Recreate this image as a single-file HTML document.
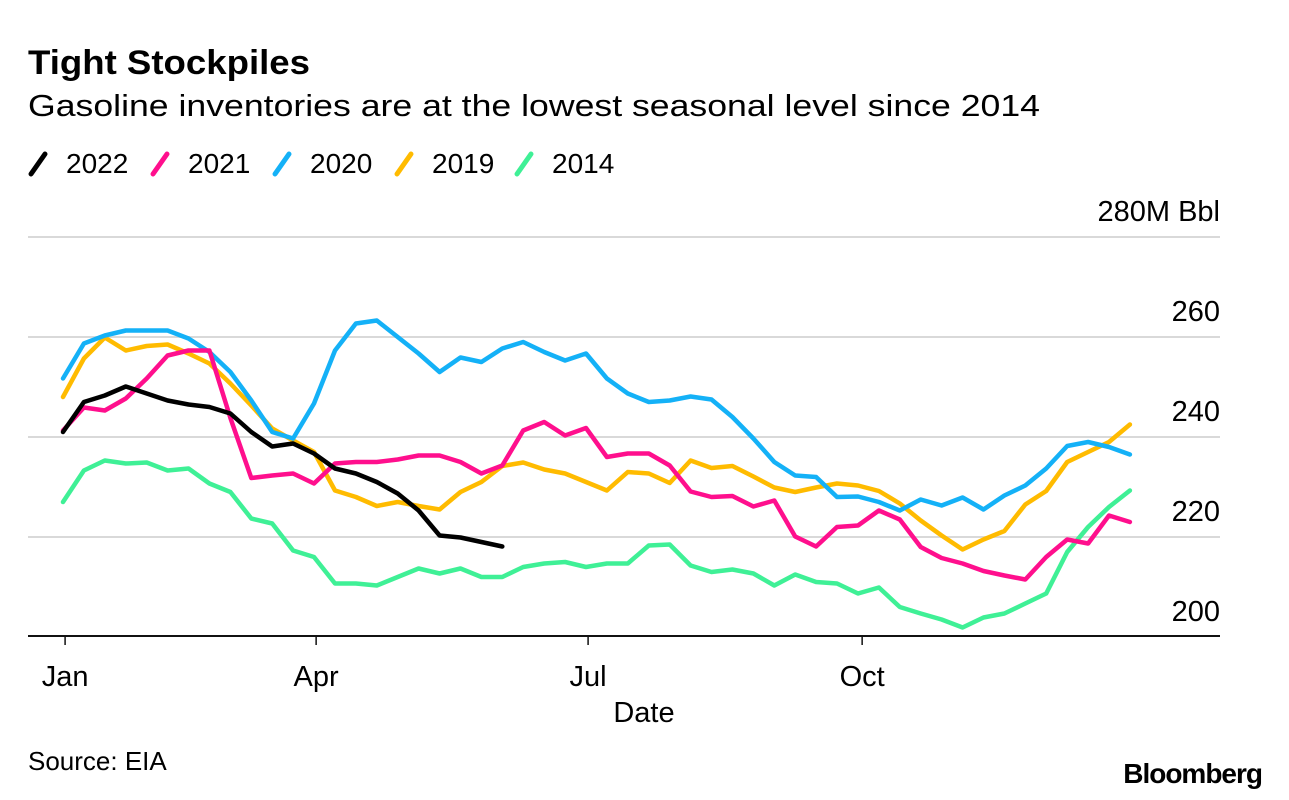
<!DOCTYPE html>
<html><head><meta charset="utf-8"><style>
html,body{margin:0;padding:0;background:#fff;}
svg{display:block;font-family:"Liberation Sans",Arial,sans-serif;}
</style></head><body>
<svg id="chart" width="1289" height="800" viewBox="0 0 1289 800">
<text x="28" y="74" font-size="34" font-weight="bold" fill="#000" textLength="282" lengthAdjust="spacingAndGlyphs">Tight Stockpiles</text>
<text x="28" y="116" font-size="31" fill="#000" textLength="1012" lengthAdjust="spacingAndGlyphs">Gasoline inventories are at the lowest seasonal level since 2014</text>
<g id="legend"></g>
<g id="grid"></g>
<g id="yaxis"></g>
<g id="xaxis"></g>
<g id="series"></g>
<text x="644" y="722" font-size="29" text-anchor="middle" fill="#000">Date</text>
<text x="28" y="770" font-size="26" fill="#000">Source: EIA</text>
<text x="1262" y="783" font-size="28" font-weight="bold" text-anchor="end" fill="#000" letter-spacing="-1">Bloomberg</text>
</svg>
<script>
const yTicks = [200, 220, 240, 260, 280];
const yTickLabels = ["200", "220", "240", "260", "280M Bbl"];
const xTickWeeks = [0.1, 12.1, 25.1, 38.2];
const xTickLabels = ["Jan", "Apr", "Jul", "Oct"];
const seriesNames = ["2014", "2019", "2020", "2021", "2022"];
const s2022 = [241,247,248.3,250.1,248.7,247.3,246.5,246,244.7,241,238.1,238.7,236.7,233.7,232.7,231,228.7,225.3,220.3,219.9,219,218.1];
const s2021 = [241.3,245.9,245.3,247.7,251.7,256.3,257.3,257.3,243.8,231.8,232.3,232.7,230.7,234.7,235,235,235.5,236.3,236.3,235,232.7,234.3,241.3,243,240.3,241.8,236,236.7,236.7,234.3,229.1,228,228.2,226.1,227.3,220.1,218.1,222,222.3,225.3,223.5,218,215.8,214.7,213.2,212.3,211.5,216,219.5,218.7,224.3,223];
const s2020 = [251.7,258.7,260.3,261.3,261.3,261.3,259.7,257,253,247.3,241,239.7,246.7,257.3,262.7,263.3,260,256.7,253,255.9,255,257.7,259,257,255.3,256.7,251.7,248.7,247,247.3,248.1,247.5,244,239.7,235,232.3,232,228,228.1,227,225.3,227.5,226.3,227.9,225.5,228.3,230.3,233.7,238.2,239,238,236.5];
const s2019 = [248,255.7,259.9,257.3,258.2,258.5,256.7,254.7,250.7,246.3,241.7,239.3,237,229.3,228,226.2,227,226.2,225.5,229,231,234.2,234.9,233.5,232.7,231,229.3,233,232.7,230.8,235.3,233.8,234.2,232.1,229.9,229,229.9,230.7,230.3,229.2,226.7,223.3,220.3,217.5,219.5,221.2,226.5,229.2,235,237,239,242.5];
const s2014 = [227,233.3,235.3,234.7,234.9,233.3,233.7,230.7,229,223.7,222.7,217.3,216,210.7,210.7,210.3,212,213.7,212.7,213.7,212,212,214,214.7,215,214,214.7,214.7,218.3,218.5,214.3,213,213.5,212.7,210.3,212.5,211,210.7,208.7,209.9,206,204.7,203.5,201.9,203.9,204.7,206.7,208.7,217,222,226,229.3];
const seriesData = [s2014, s2019, s2020, s2021, s2022];
const colors = ["#3ff096", "#ffbb00", "#14b1f7", "#ff0f8d", "#000000"];

const NS = "http://www.w3.org/2000/svg";
const X0 = 63, XW = 20.92, XL = 28, XR = 1220;
function xScale(w){ return X0 + w * XW; }
function yScale(v){ return 637 - (v - 200) * 5; }
function mk(tag, attrs, parent){ const e = document.createElementNS(NS, tag); for (const k in attrs) e.setAttribute(k, attrs[k]); parent.appendChild(e); return e; }

const grid = document.getElementById('grid');
const yaxis = document.getElementById('yaxis');
yTicks.forEach((v, i) => {
  if (i > 0) {
    const l = mk('line', {x1: XL, x2: XR, y1: yScale(v), y2: yScale(v), stroke: '#d9d9d9', 'stroke-width': 2}, grid);
    
    
  }
  const t = mk('text', {x: XR, y: yScale(v) - 16, 'font-size': 29, 'text-anchor': 'end', fill: '#000'}, yaxis);
  t.textContent = yTickLabels[i];
  
  
});
const xaxis = document.getElementById('xaxis');
const al = mk('line', {x1: XL, x2: XR, y1: 636, y2: 636, stroke: '#111', 'stroke-width': 2}, xaxis);


xTickWeeks.forEach((w, i) => {
  const x = xScale(w);
  const tk = mk('line', {x1: x, x2: x, y1: 636, y2: 645, stroke: '#111', 'stroke-width': 1.5}, xaxis);
  
  
  const t = mk('text', {x: x, y: 686, 'font-size': 29, 'text-anchor': 'middle', fill: '#000'}, xaxis);
  t.textContent = xTickLabels[i];
  
  
});
const sg = document.getElementById('series');
seriesData.forEach((arr, si) => {
  const d = arr.map((v, i) => (i ? 'L' : 'M') + xScale(i).toFixed(1) + ',' + yScale(v).toFixed(1)).join(' ');
  const p = mk('path', {d: d, fill: 'none', stroke: colors[si], 'stroke-width': 4.5, 'stroke-linejoin': 'round', 'stroke-linecap': 'round'}, sg);
  
  
});
const lg = document.getElementById('legend');
const legOrder = [4, 3, 2, 1, 0];
const legX = [28, 150, 272, 394, 514];
legOrder.forEach((si, k) => {
  const g = mk('g', {}, lg);
  
  
  const x = legX[k];
  mk('line', {x1: x + 3, y1: 174, x2: x + 17, y2: 154, stroke: colors[si], 'stroke-width': 5, 'stroke-linecap': 'round'}, g);
  const t = mk('text', {x: x + 38, y: 173, 'font-size': 28, fill: '#000'}, g);
  t.textContent = seriesNames[si];
});
</script>
</body></html>
